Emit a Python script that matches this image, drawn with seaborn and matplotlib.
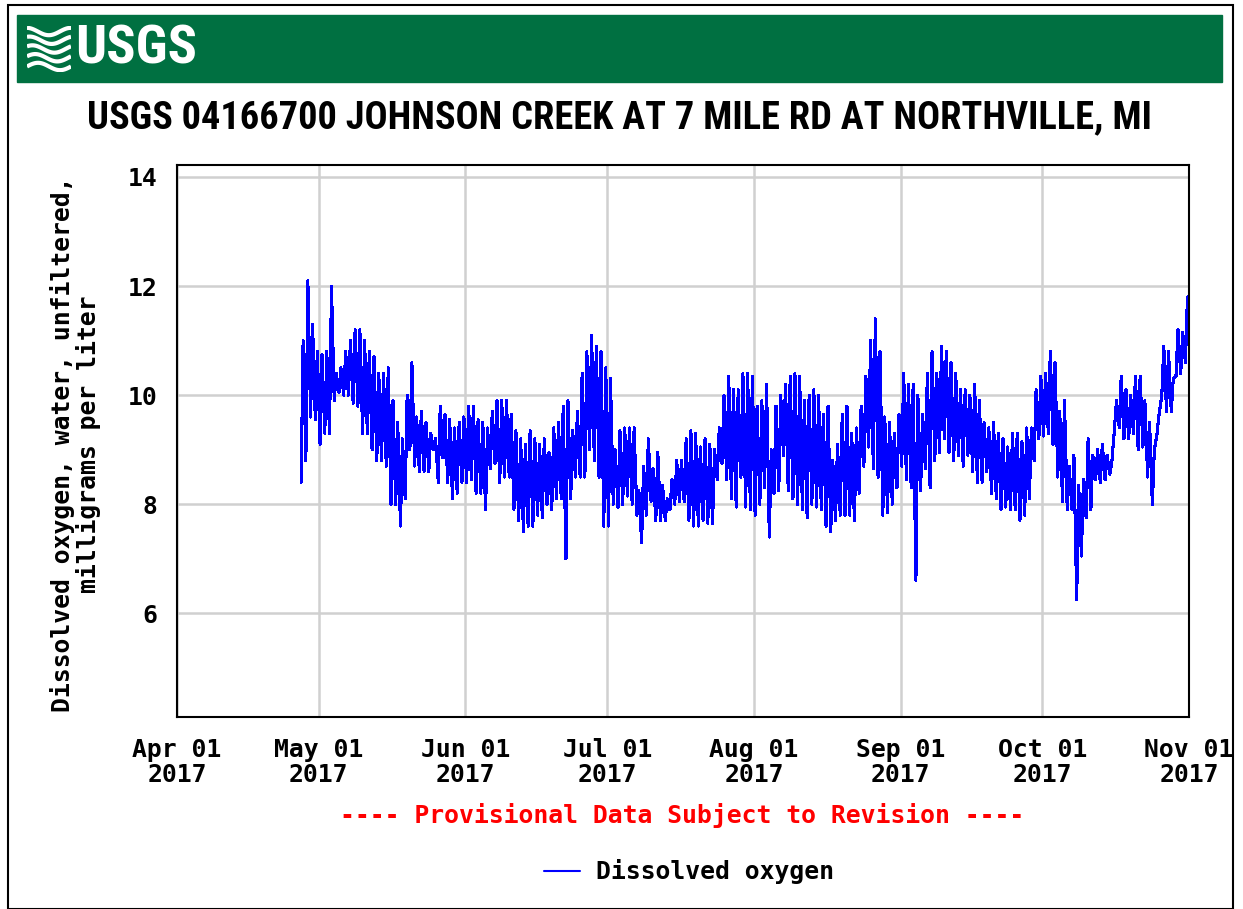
import pandas as pd
import numpy as np
import matplotlib
matplotlib.use("Agg")
import matplotlib.pyplot as plt
from matplotlib.patches import Rectangle
from matplotlib.lines import Line2D
from matplotlib import font_manager as fm
import seaborn as sns

# daily dissolved oxygen extremes (mg/L), one value per day from Apr 27 2017
start_date = "2017-04-27"
daily_high = [
    11.0, 12.1, 11.3, 10.8, 10.75, 10.8, 12.0, 10.4, 10.5, 10.8,
    11.0, 11.2, 11.2, 11.0, 10.8, 10.7, 10.4, 10.4, 10.5, 9.9,
    9.5, 9.2, 10.0, 10.6, 9.6, 9.7, 9.5, 9.3, 9.2, 9.8,
    9.64, 9.55, 9.4, 9.5, 9.6, 9.8, 9.8, 9.55, 9.5, 9.4,
    9.7, 9.9, 9.9, 9.9, 9.65, 9.35, 9.2, 9.1, 9.35, 9.2,
    9.1, 9.2, 8.95, 9.4, 9.5, 9.8, 9.9, 9.35, 9.7, 10.4,
    10.8, 11.1, 10.9, 10.8, 10.5, 10.3, 9.0, 9.35, 9.4, 9.4,
    9.4, 8.25, 8.7, 9.2, 8.65, 8.95, 8.35, 8.1, 8.45, 8.8,
    8.8, 9.2, 9.35, 9.3, 9.05, 9.2, 9.1, 9.0, 9.4, 10.0,
    10.35, 10.1, 10.1, 10.4, 10.4, 10.35, 9.8, 9.9, 10.2, 9.0,
    9.8, 10.0, 10.2, 10.35, 10.4, 10.35, 9.9, 10.0, 10.1, 10.0,
    9.65, 9.8, 8.8, 9.1, 9.65, 9.8, 9.3, 9.4, 9.8, 10.35,
    11.0, 11.4, 10.8, 9.6, 9.5, 9.3, 9.65, 10.4, 10.2, 10.2,
    10.0, 9.65, 10.4, 10.8, 10.4, 10.9, 10.8, 10.6, 10.4, 10.1,
    10.1, 10.0, 10.2, 9.9, 9.5, 9.4, 9.5, 9.3, 9.2, 9.05,
    9.3, 9.3, 9.15, 9.4, 9.4, 10.1, 10.35, 10.4, 10.8, 10.6,
    9.7, 9.9, 8.7, 8.9, 8.35, 8.45, 9.2, 8.9, 9.0, 9.1,
    8.9, 8.75, 9.9, 10.35, 10.1, 10.0, 10.35, 10.35, 9.9, 9.5,
    9.0, 9.65, 10.9, 10.8, 10.3, 11.2, 11.15, 11.8,
]
daily_low = [
    8.4, 8.8, 9.6, 9.55, 9.1, 9.3, 9.3, 9.9, 10.05, 10.0,
    10.0, 9.85, 9.8, 9.3, 9.3, 9.0, 8.8, 8.8, 8.7, 8.0,
    8.0, 7.6, 8.1, 9.0, 8.7, 8.6, 8.6, 8.6, 9.0, 8.4,
    8.85, 8.4, 8.1, 8.2, 8.4, 8.4, 8.45, 8.2, 8.2, 7.9,
    8.65, 8.75, 8.4, 8.5, 8.5, 7.9, 7.7, 7.5, 7.6, 7.6,
    7.8, 7.75, 8.0, 7.9, 8.1, 8.1, 7.0, 8.1, 8.5, 8.5,
    8.5, 9.0, 8.8, 8.5, 7.6, 7.6, 8.0, 7.95, 8.0, 8.15,
    8.0, 7.8, 7.3, 7.8, 8.05, 7.7, 7.7, 7.7, 7.9, 8.0,
    8.05, 8.05, 7.7, 7.6, 7.6, 7.7, 7.65, 7.65, 8.45, 8.75,
    8.45, 8.1, 7.95, 8.5, 7.95, 7.9, 7.8, 8.0, 8.3, 7.4,
    8.2, 8.25, 8.9, 8.25, 8.1, 8.0, 7.9, 7.75, 8.0, 7.95,
    7.9, 7.6, 7.5, 7.7, 7.8, 7.8, 7.8, 7.7, 8.2, 8.7,
    9.05, 8.65, 8.5, 7.8, 7.85, 8.0, 8.3, 8.7, 8.45, 8.3,
    6.6, 8.25, 8.65, 8.3, 8.8, 8.95, 9.2, 8.95, 8.8, 8.9,
    8.7, 8.9, 8.6, 8.4, 8.4, 8.6, 8.2, 8.1, 7.9, 7.95,
    7.9, 7.9, 7.7, 7.8, 8.1, 8.8, 9.2, 9.25, 9.3, 9.1,
    8.5, 8.05, 7.9, 7.9, 6.25, 7.05, 7.75, 7.9, 8.45, 8.4,
    8.45, 8.55, 9.4, 9.4, 9.2, 9.2, 9.3, 9.0, 9.05, 8.5,
    8.0, 9.3, 10.0, 9.7, 9.7, 10.35, 10.4, 10.6,
]
tick_dates = ["2017-04-01", "2017-05-01", "2017-06-01", "2017-07-01",
              "2017-08-01", "2017-09-01", "2017-10-01", "2017-11-01"]
tick_labels = ["Apr 01\n2017", "May 01\n2017", "Jun 01\n2017", "Jul 01\n2017",
               "Aug 01\n2017", "Sep 01\n2017", "Oct 01\n2017", "Nov 01\n2017"]
y_ticks = [6, 8, 10, 12, 14]

title = "USGS 04166700 JOHNSON CREEK AT 7 MILE RD AT NORTHVILLE, MI"
ylabel = "Dissolved oxygen, water, unfiltered,\nmilligrams per liter"
series_name = "Dissolved oxygen"

# low near dawn, high in the afternoon
days = pd.date_range(start_date, periods=len(daily_high), freq="D")
rows = []
for d, lo, hi in zip(days, daily_low, daily_high):
    rows.append((d + pd.Timedelta(hours=6), lo))
    rows.append((d + pd.Timedelta(hours=16), hi))
df = pd.DataFrame(rows, columns=["time", "value"])

sns.set_theme(style="white")
names = {f.name for f in fm.fontManager.ttflist}
narrow = "Liberation Sans"
for cand in ["Liberation Sans Narrow", "DejaVu Sans Condensed", "Roboto Condensed",
             "Open Sans Condensed"]:
    if cand in names:
        narrow = cand
        break
mono = "DejaVu Sans Mono"
plt.rcParams["font.family"] = [mono, "DejaVu Sans"]
plt.rcParams["text.color"] = "black"
plt.rcParams["xtick.color"] = "black"
plt.rcParams["ytick.color"] = "black"
FS = 17.8

W, H = 1243, 909
fig = plt.figure(figsize=(W / 100, H / 100), dpi=100)
fig.patch.set_facecolor("white")

ax = fig.add_axes([177 / W, 1 - 717 / H, (1189 - 177) / W, (717 - 165) / H])
sns.lineplot(data=df, x="time", y="value", ax=ax, color="#0000FF",
             linewidth=1.5, estimator=None, legend=False, antialiased=False)

ax.set_xlim(pd.Timestamp("2017-04-01"), pd.Timestamp("2017-11-01"))
ax.set_ylim(4.1, 14.22)
ax.set_xticks(pd.to_datetime(tick_dates))
ax.set_xticklabels(tick_labels, fontsize=FS, fontweight="bold",
                   family=mono, linespacing=1.05)
ax.set_yticks(y_ticks)
ax.set_yticklabels([str(v) for v in y_ticks], fontsize=FS,
                   fontweight="bold", family=mono)
ax.tick_params(axis="x", length=0, pad=15)
ax.tick_params(axis="y", length=0, pad=14)
ax.grid(True, color="#D0D0D0", linewidth=1.8)
ax.set_axisbelow(True)
ax.set_xlabel("")
ax.set_ylabel("")
for s in ax.spines.values():
    s.set_color("black")
    s.set_linewidth(1.5)

fig.text(76 / W, 1 - 444 / H, ylabel, rotation=90, ha="center", va="center",
         multialignment="center", fontsize=FS, fontweight="bold",
         family=mono, linespacing=1.05)

fig.text(682 / W, 1 - 815 / H, "---- Provisional Data Subject to Revision ----",
         ha="center", va="center", color="#FF0000", fontsize=FS,
         fontweight="bold", family=mono)

handle = Line2D([], [], color="#0000FF", linewidth=1.5)
fig.legend([handle], [series_name], loc="center", bbox_to_anchor=(689 / W, 1 - 872 / H),
           frameon=False, handlelength=1.45, handletextpad=0.65,
           prop={"family": mono, "weight": "bold", "size": FS})

# header banner
fig.patches.append(Rectangle((17 / W, 1 - 82 / H), (1222 - 17) / W, 67 / H,
                             transform=fig.transFigure, color="#007041", zorder=0))
logo = fig.text(75 / W, 1 - 49 / H, "USGS", ha="left", va="center", color="white",
                fontsize=42, fontweight="bold", family=narrow)
ttl = fig.text(619 / W, 1 - 118 / H, title, ha="center", va="center", color="black",
               fontsize=29, fontweight="bold", family=narrow)

lax = fig.add_axes([27 / W, 1 - 72 / H, 44 / W, 46 / H])
lax.set_zorder(5)
lax.set_axis_off()
wx = np.linspace(0, 1, 50)
for k in range(5):
    lax.plot(wx, 0.12 + 0.19 * k + 0.08 * np.sin(wx * 2 * np.pi + k * 0.4),
             color="white", linewidth=3.0, solid_capstyle="butt")
lax.set_xlim(0, 1)
lax.set_ylim(0, 1)

# outer frame
fig.patches.append(Rectangle((8 / W, 0), (1233 - 8) / W, 1 - 5 / H,
                             transform=fig.transFigure, fill=False,
                             edgecolor="black", linewidth=1.5, zorder=10))

# fit title / logo widths to the reference
fig.canvas.draw()
for t, target in ((ttl, 1062), (logo, 122)):
    bb = t.get_window_extent()
    t.set_fontsize(t.get_fontsize() * target / bb.width)

fig.savefig("out.png", dpi=100)
